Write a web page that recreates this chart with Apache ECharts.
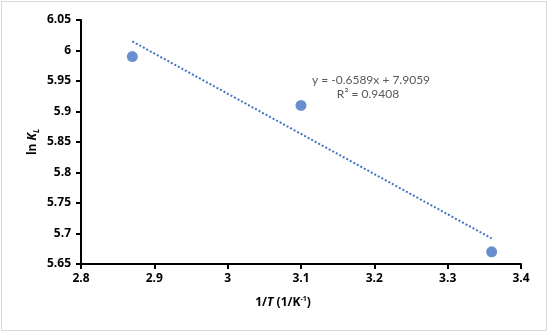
<!DOCTYPE html>
<html>
<head>
<meta charset="utf-8">
<script src="https://cdn.jsdelivr.net/npm/echarts@6/dist/echarts.min.js"></script>
<style>html,body{margin:0;padding:0;background:#fff}#c{width:550px;height:333px}</style>
</head>
<body>
<div id="c"></div>
<script>
const invT = [2.87, 3.1, 3.36];
const lnKL = [5.99, 5.91, 5.67];
const slope = -0.6589;
const intercept = 7.9059;
const trendX = [2.87, 3.36];
const eqText = 'y = -0.6589x + 7.9059';
const r2Text = 'R² = 0.9408';

const FONT = '"Open Sans", sans-serif';
const EQFONT = '12px Lato, "Open Sans", sans-serif';
const chart = echarts.init(document.getElementById('c'));
const trend = trendX.map(x => [x, slope * x + intercept]);
chart.setOption({
  animation: false,
  backgroundColor: '#fff',
  grid: {left: 81, right: 29, top: 20, bottom: 69},
  xAxis: {
    type: 'value', min: 2.8, max: 3.4, interval: 0.1,
    axisLine: {lineStyle: {color: '#000', width: 2}},
    axisTick: {show: true, length: 5, lineStyle: {color: '#000', width: 2}},
    axisLabel: {color: '#000', fontWeight: 700, fontSize: 12, fontFamily: FONT, margin: 9,
      formatter: v => String(+v.toFixed(1))},
    splitLine: {show: false}
  },
  yAxis: {
    type: 'value', min: 5.65, max: 6.05, interval: 0.05,
    axisLine: {show: true, lineStyle: {color: '#000', width: 2}},
    axisTick: {show: true, length: 5, lineStyle: {color: '#000', width: 2}},
    axisLabel: {color: '#000', fontWeight: 700, fontSize: 12, fontFamily: FONT, margin: 10,
      formatter: v => String(+v.toFixed(2))},
    splitLine: {show: false}
  },
  series: [
    {type: 'line', data: trend, symbol: 'none', silent: true,
      lineStyle: {color: '#4472C4', width: 2, type: [2, 2]}, z: 2},
    {type: 'scatter', data: invT.map((x, i) => [x, lnKL[i]]), symbolSize: 11,
      itemStyle: {color: '#4472C4'}, z: 3}
  ],
  graphic: [
    {type: 'rect', shape: {x: 1.5, y: 1.5, width: 545, height: 329}, style: {fill: 'none', stroke: '#d9d9d9', lineWidth: 1}, z: -1},
    {type: 'text', x: 371, y: 80, style: {text: eqText, fill: '#595959', font: EQFONT, textAlign: 'center', textVerticalAlign: 'middle'}},
    {type: 'text', x: 368, y: 94, style: {text: r2Text, fill: '#595959', font: EQFONT, textAlign: 'center', textVerticalAlign: 'middle'}},
    {type: 'text', x: 33, y: 142, rotation: Math.PI / 2,
      style: {text: '{a|ln }{b|K}{c|L}', textAlign: 'center', textVerticalAlign: 'middle',
        rich: {
          a: {fontFamily: FONT, fontWeight: 700, fontSize: 12, fill: '#000'},
          b: {fontFamily: FONT, fontWeight: 700, fontStyle: 'italic', fontSize: 12, fill: '#000'},
          c: {fontFamily: FONT, fontWeight: 700, fontStyle: 'italic', fontSize: 8, fill: '#000', padding: [8, 0, 0, 0]}
        }}},
    {type: 'text', x: 283, y: 303,
      style: {text: '{a|1/}{b|T}{a| (1/K}{c|-1}{a|)}', textAlign: 'center', textVerticalAlign: 'middle',
        rich: {
          a: {fontFamily: FONT, fontWeight: 700, fontSize: 12, fill: '#000'},
          b: {fontFamily: FONT, fontWeight: 700, fontStyle: 'italic', fontSize: 12, fill: '#000'},
          c: {fontFamily: FONT, fontWeight: 700, fontSize: 7, fill: '#000', padding: [0, 0, 8, 0]}
        }}}
  ]
});
</script>
</body>
</html>
